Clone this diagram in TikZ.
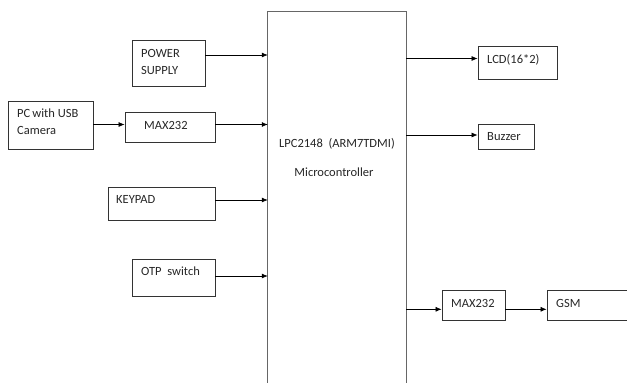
\documentclass[tikz,border=0pt]{standalone}
\usepackage{fontspec}
\setmainfont{Carlito}
\usetikzlibrary{arrows.meta}
\begin{document}
\begin{tikzpicture}[x=1pt,y=-1pt,
  blk/.style={draw=black!80, line width=0.8pt, inner sep=0pt},
  frame/.style={draw=black!60, line width=0.9pt},
  txt/.style={font=\fontsize{12.5}{15}\selectfont, text=black!85, anchor=base west, inner sep=0pt},
  ctxt/.style={font=\fontsize{12.5}{15}\selectfont, text=black!85, anchor=base, inner sep=0pt},
  arr/.style={-{Latex[length=6pt,width=5pt]}, line width=0.7pt, draw=black}]
\useasboundingbox (0,0) rectangle (627,383);
% blocks
\node[blk, minimum width=73pt, minimum height=46pt] (ps) at (168.5,63) {};
\node[blk, minimum width=85pt, minimum height=48pt] (pc) at (50.5,125) {};
\node[blk, minimum width=90pt, minimum height=30pt] (maxl) at (170,127) {};
\node[blk, minimum width=107pt, minimum height=33pt] (key) at (161.5,203.5) {};
\node[blk, minimum width=83pt, minimum height=37pt] (otp) at (173.5,277.5) {};
\node[minimum width=138pt, minimum height=373pt, inner sep=0pt] (mcu) at (337,198.5) {};
\draw[frame] (mcu.south west) -- (mcu.north west) -- (mcu.north east) -- (mcu.south east);
\node[blk, minimum width=79pt, minimum height=33pt] (lcd) at (517.5,62.5) {};
\node[blk, minimum width=56pt, minimum height=25pt] (buz) at (506,136.5) {};
\node[blk, minimum width=63pt, minimum height=30pt] (maxr) at (473.5,305) {};
\node[blk, minimum width=85pt, minimum height=30pt] (gsm) at (589.5,305) {};
% texts
\node[txt] (tps1) at (141,57) {POWER};
\node[txt] (tps2) at (141,74) {SUPPLY};
\node[txt] (tpc1) at (17,117) {PC\,with USB};
\node[txt] (tpc2) at (17,134) {Camera};
\node[txt] (tmaxl) at (144,129) {MAX232};
\node[txt] (tkey) at (116,203) {KEYPAD};
\node[txt] (totp) at (141,275) {OTP\ \ switch};
\node[ctxt] (tmcu1) at (337,147) {LPC2148\ \ (ARM7TDMI)};
\node[ctxt] (tmcu2) at (334,176) {Microcontroller};
\node[txt] (tlcd) at (487,63) {LCD(16*2)};
\node[txt] (tbuz) at (487,140) {Buzzer};
\node[txt] (tmaxr) at (451,307) {MAX232};
\node[txt] (tgsm) at (556,307) {GSM};
% connectors
\coordinate (a1) at ([yshift=8pt]ps.east);
\draw[arr] (a1) -- (a1 -| mcu.west);
\coordinate (a2) at ([yshift=0.5pt]pc.east);
\draw[arr] (a2) -- (a2 -| maxl.west);
\coordinate (a3) at ([yshift=2.5pt]maxl.east);
\draw[arr] (a3) -- (a3 -| mcu.west);
\coordinate (a4) at ([yshift=3.5pt]key.east);
\draw[arr] (a4) -- (a4 -| mcu.west);
\coordinate (a5) at ([yshift=1.5pt]otp.east);
\draw[arr] (a5) -- (a5 -| mcu.west);
\coordinate (b1) at ([yshift=4pt]lcd.west);
\draw[arr] (b1 -| mcu.east) -- (b1);
\coordinate (b2) at ([yshift=1.5pt]buz.west);
\draw[arr] (b2 -| mcu.east) -- (b2);
\coordinate (b3) at ([yshift=-4.3pt]maxr.west);
\draw[arr] (b3 -| mcu.east) -- (b3);
\coordinate (b4) at ([yshift=-4.3pt]gsm.west);
\draw[arr] (b4 -| maxr.east) -- (b4);
\end{tikzpicture}
\end{document}
